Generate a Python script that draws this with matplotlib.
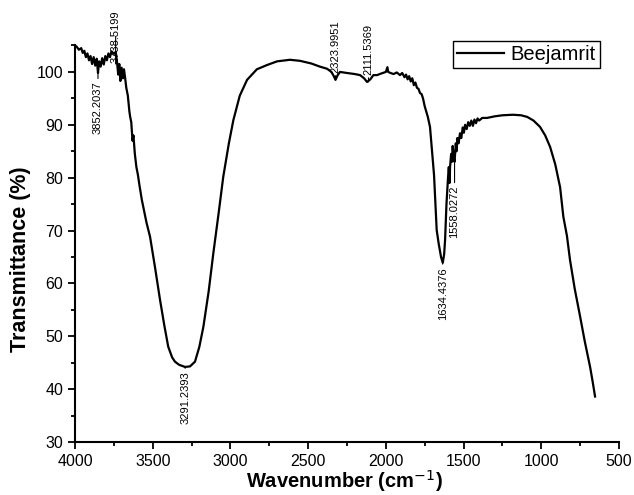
import matplotlib
matplotlib.use("Agg")
import matplotlib.pyplot as plt
from matplotlib.ticker import MultipleLocator

plt.rcParams['font.family'] = ['Liberation Sans', 'DejaVu Sans']

# spectrum (wavenumber cm-1, transmittance %)
wavenumber = [
    4000, 3990, 3975, 3960, 3950, 3940, 3930, 3920, 3910, 3900, 3890, 3880,
    3870, 3860, 3852, 3845, 3835, 3825, 3815, 3805, 3795, 3785, 3775, 3765,
    3750, 3738, 3730, 3722, 3715, 3708, 3700, 3692, 3685, 3678, 3670, 3660,
    3650, 3645, 3638, 3630, 3624, 3615, 3605, 3595, 3585, 3570, 3540, 3517,
    3485, 3453, 3425, 3400, 3375, 3357, 3330, 3292, 3260, 3228, 3200, 3174,
    3140, 3110, 3075, 3046, 3010, 2981, 2940, 2893, 2830, 2765, 2700, 2617,
    2552, 2480, 2424, 2378, 2350, 2335, 2324, 2310, 2295, 2250, 2200, 2166,
    2140, 2121, 2100, 2080, 2057, 2030, 2000, 1990, 1985, 1970, 1950, 1930,
    1909, 1895, 1880, 1870, 1860, 1850, 1840, 1830, 1820, 1810, 1800, 1790,
    1780, 1770, 1761, 1750, 1740, 1730, 1716, 1700, 1690, 1673, 1660, 1645,
    1634, 1625, 1619, 1610, 1600, 1595, 1590, 1587, 1580, 1575, 1570, 1565,
    1558, 1550, 1545, 1540, 1532, 1523, 1515, 1505, 1498, 1490, 1480, 1470,
    1460, 1450, 1440, 1430, 1420, 1410, 1400, 1380, 1349, 1300, 1250, 1182,
    1130, 1091, 1050, 1008, 975, 943, 910, 879, 858, 835, 815, 785,
    750, 720, 686, 670, 654,
]
transmittance = [
    105.0, 104.8, 104.2, 104.5, 103.6, 104.0, 102.8, 103.5, 102.2, 103.0, 101.5, 102.8,
    101.2, 102.5, 99.8, 102.0, 101.0, 102.6, 101.4, 103.0, 102.2, 103.5, 102.8, 103.9,
    103.4, 103.8, 102.0, 99.5, 101.5, 98.3, 100.8, 98.8, 100.5, 99.0, 97.0, 95.5,
    92.5, 91.5, 90.5, 87.0, 88.0, 84.5, 82.0, 80.5, 78.5, 75.8, 71.5, 68.8,
    63.0, 56.9, 52.0, 48.0, 46.0, 45.2, 44.6, 44.2, 44.3, 45.2, 48.0, 51.8,
    58.5, 65.7, 73.5, 80.2, 86.5, 90.9, 95.5, 98.5, 100.5, 101.3, 102.0, 102.3,
    102.1, 101.6, 101.0, 100.6, 100.0, 99.2, 98.5, 99.4, 100.0, 99.8, 99.6, 99.4,
    98.8, 98.1, 98.6, 99.4, 99.4, 99.7, 100.0, 100.9, 100.0, 99.8, 99.6, 99.9,
    99.4, 99.8, 99.0, 99.5, 98.6, 99.2, 98.2, 98.8, 97.5, 98.0, 97.0, 96.8,
    96.0, 95.8, 95.0, 93.5, 92.5, 91.5, 89.6, 84.0, 80.5, 70.1, 67.5, 65.0,
    63.9, 65.5, 68.2, 75.0, 80.0, 82.0, 79.0, 82.0, 84.5, 83.0, 86.0, 84.0,
    83.0, 86.5, 85.0, 87.5, 86.5, 88.4, 87.5, 89.5, 88.5, 90.0, 89.2, 90.5,
    89.8, 90.8, 89.8, 91.0, 90.3, 91.2, 90.8, 91.3, 91.3, 91.6, 91.8, 91.9,
    91.8, 91.5, 90.8, 89.6, 88.0, 85.8, 82.5, 78.2, 72.6, 69.0, 64.4, 59.0,
    53.7, 49.0, 44.2, 41.5, 38.6,
]

# peak labels
peak_wn = [3852.2037, 3738.5199, 2323.9951, 2111.5369, 3291.2393, 1634.4376, 1558.0272]
peak_t = [99.8, 101.5, 98.5, 98.1, 44.2, 63.9, 83.0]
peak_off = [-6, 1, 5, 5, -3, -3, -17]   # label offset in points (negative = below)

fig = plt.figure(figsize=(6.34, 4.95), dpi=100)
ax = fig.add_axes([75/634, 53/495, 544/634, 396.5/495])

ax.plot(wavenumber, transmittance, color='black', lw=1.6, label='Beejamrit')

for wn, t, off in zip(peak_wn, peak_t, peak_off):
    ax.annotate(f"{wn:.4f}", xy=(wn, t), xytext=(0, off), textcoords='offset points',
                rotation=90, fontsize=8, ha='center', va='bottom' if off > 0 else 'top',
                arrowprops=dict(arrowstyle='-', lw=0.8, color='black', shrinkA=0, shrinkB=0))

ax.set_xlim(4000, 500)
ax.set_ylim(30, 105)
ax.xaxis.set_major_locator(MultipleLocator(500))
ax.xaxis.set_minor_locator(MultipleLocator(250))
ax.yaxis.set_minor_locator(MultipleLocator(5))
ax.set_yticks([30, 40, 50, 60, 70, 80, 90, 100])

for side in ['top', 'right']:
    ax.spines[side].set_visible(False)
for side in ['left', 'bottom']:
    ax.spines[side].set_linewidth(1.5)
ax.tick_params(which='major', length=5, width=1.3, labelsize=11.5, direction='out')
ax.tick_params(which='minor', length=3, width=1.3, direction='out')

ax.set_xlabel('Wavenumber (cm$^{-1}$)', fontsize=14.5, fontweight='bold')
ax.xaxis.set_label_coords(0.495, -0.067)
ax.set_ylabel('Transmittance (%)', fontsize=15.5, fontweight='bold')
ax.yaxis.set_label_coords(-0.08, 0.46)

leg = ax.legend(loc='upper right', bbox_to_anchor=(600/634, (495-41)/495),
                bbox_transform=fig.transFigure, borderaxespad=0, fancybox=False,
                edgecolor='black', fontsize=14.5, handlelength=2.3, borderpad=0.2,
                handletextpad=0.35, framealpha=1)
leg.get_frame().set_linewidth(1.0)

fig.savefig('out.png', dpi=100)
